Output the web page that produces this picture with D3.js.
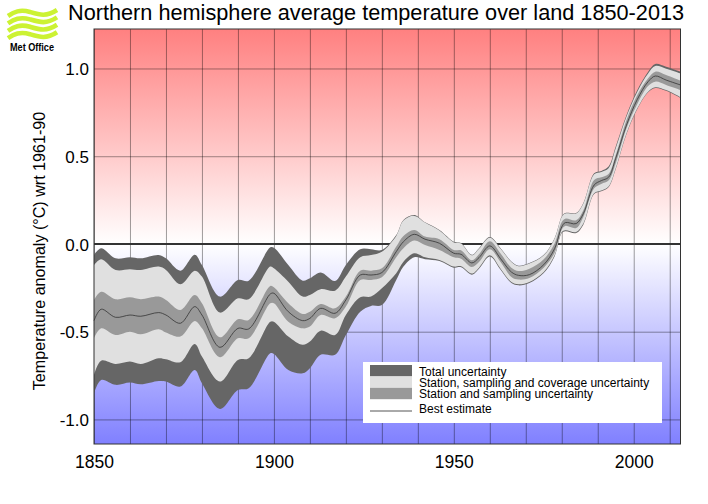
<!DOCTYPE html>
<html>
<head>
<meta charset="utf-8">
<script src="https://cdn.jsdelivr.net/npm/d3@7"></script>
<style>
  body { margin: 0; background: #fff; }
  text { font-family: "Liberation Sans", Arial, sans-serif; fill: #000; }
</style>
</head>
<body>
<div id="grafica"></div>
<script>
// Values (anomaly in degrees C)
const years = [1850,1852,1856,1860,1863,1868,1870,1874,1878,1880,1885,1890,1893,1899,
  1900,1904,1908,1910,1913,1917,1920,1924,1927,1930,1934,1936,1939,1942,1946,1950,
  1952,1955,1957,1960,1963,1966,1968,1971,1975,1978,1980,1981,1984,1986,
  1989,1991,1993,1995,1998,2001,2004,2006,2009,2013]

const totalUpper = [-0.063,-0.025,-0.082,-0.076,-0.082,-0.063,-0.082,-0.152,-0.061,-0.120,-0.300,-0.205,-0.209,-0.019,
  -0.021,-0.120,-0.209,-0.196,-0.163,-0.211,-0.120,-0.030,-0.030,-0.034,0.051,0.137,0.165,0.123,0.080,0.013,
  0.005,-0.062,-0.024,0.039,-0.024,-0.100,-0.124,-0.109,-0.062,0.033,0.157,0.176,0.176,0.233,
  0.403,0.416,0.441,0.555,0.735,0.877,0.982,1.026,1.010,0.982]

const coverageUpper = [-0.120,-0.087,-0.148,-0.144,-0.148,-0.129,-0.148,-0.230,-0.152,-0.186,-0.391,-0.310,-0.315,-0.129,
  -0.139,-0.215,-0.300,-0.291,-0.258,-0.266,-0.186,-0.076,-0.063,-0.044,0.046,0.133,0.160,0.122,0.076,0.009,
  0.002,-0.065,-0.027,0.036,-0.027,-0.103,-0.127,-0.112,-0.065,0.030,0.154,0.173,0.173,0.230,
  0.397,0.410,0.431,0.545,0.726,0.868,0.972,1.014,0.999,0.972]

const stationUpper = [-0.319,-0.272,-0.315,-0.304,-0.315,-0.300,-0.319,-0.376,-0.291,-0.338,-0.532,-0.429,-0.433,-0.239,
  -0.247,-0.338,-0.399,-0.386,-0.342,-0.367,-0.300,-0.152,-0.152,-0.139,-0.015,0.046,0.080,0.042,0.027,-0.034,
  -0.036,-0.093,-0.059,0.015,-0.055,-0.135,-0.154,-0.141,-0.087,0.002,0.125,0.144,0.135,0.192,
  0.365,0.380,0.399,0.507,0.707,0.849,0.944,0.982,0.963,0.931]

const bestEstimate = [-0.437,-0.372,-0.418,-0.405,-0.412,-0.391,-0.405,-0.452,-0.357,-0.405,-0.589,-0.481,-0.484,-0.285,
  -0.281,-0.386,-0.437,-0.424,-0.367,-0.395,-0.319,-0.177,-0.177,-0.163,-0.044,0.013,0.055,0.027,0.004,-0.053,
  -0.059,-0.108,-0.078,-0.011,-0.084,-0.160,-0.179,-0.175,-0.118,-0.027,0.097,0.122,0.116,0.173,
  0.336,0.361,0.380,0.488,0.678,0.824,0.925,0.957,0.934,0.906]

const stationLower = [-0.538,-0.481,-0.519,-0.500,-0.515,-0.486,-0.505,-0.528,-0.439,-0.481,-0.646,-0.538,-0.538,-0.338,
  -0.338,-0.443,-0.481,-0.471,-0.405,-0.424,-0.357,-0.205,-0.205,-0.190,-0.076,-0.025,0.019,-0.006,-0.034,-0.076,
  -0.084,-0.131,-0.103,-0.030,-0.103,-0.188,-0.203,-0.194,-0.135,-0.051,0.082,0.103,0.091,0.154,
  0.317,0.342,0.361,0.460,0.659,0.798,0.900,0.925,0.906,0.877]

const coverageLower = [-0.746,-0.665,-0.684,-0.670,-0.684,-0.651,-0.657,-0.674,-0.570,-0.642,-0.784,-0.661,-0.651,-0.443,
  -0.443,-0.528,-0.575,-0.556,-0.494,-0.519,-0.405,-0.304,-0.300,-0.253,-0.167,-0.101,-0.053,-0.076,-0.091,-0.129,
  -0.127,-0.169,-0.135,-0.065,-0.141,-0.217,-0.230,-0.217,-0.160,-0.065,0.068,0.078,0.068,0.116,
  0.289,0.304,0.327,0.431,0.631,0.773,0.868,0.893,0.877,0.836]

const totalLower = [-0.851,-0.775,-0.803,-0.790,-0.800,-0.781,-0.784,-0.813,-0.718,-0.794,-0.940,-0.832,-0.822,-0.623,
  -0.627,-0.718,-0.737,-0.708,-0.632,-0.632,-0.519,-0.386,-0.353,-0.348,-0.205,-0.129,-0.076,-0.087,-0.097,-0.135,
  -0.133,-0.175,-0.141,-0.071,-0.147,-0.223,-0.236,-0.223,-0.166,-0.071,0.062,0.072,0.062,0.110,
  0.285,0.300,0.323,0.427,0.627,0.769,0.864,0.889,0.873,0.832]

const xTicks = d3.range(1850, 2011, 10)
const yTicks = [-1, -0.5, 0, 0.5, 1]

const bands = [
  { name: "Total uncertainty", upper: totalUpper, lower: totalLower, color: "#666666" },
  { name: "Station, sampling and coverage uncertainty", upper: coverageUpper, lower: coverageLower, color: "#e0e0e0" },
  { name: "Station and sampling uncertainty", upper: stationUpper, lower: stationLower, color: "#999999" },
]

const anchoTotal = 708
const altoTotal = 504
const margins = { top: 29, right: 27.5, bottom: 60, left: 94 }

// Escalas
const x = d3.scaleLinear().domain([1850, 2013]).range([margins.left, anchoTotal - margins.right])
const y = d3.scaleLinear().domain([-1.14, 1.225]).range([altoTotal - margins.bottom, margins.top])

const svg = d3.select("#grafica").append("svg")
  .attr("width", anchoTotal)
  .attr("height", altoTotal)
  .style("display", "block")

// Fondo rojo - blanco - azul
const grad = svg.append("defs").append("linearGradient")
  .attr("id", "fondo")
  .attr("x1", 0).attr("x2", 0).attr("y1", 0).attr("y2", 1)
const zeroStop = (y(0) - margins.top) / (altoTotal - margins.bottom - margins.top)
grad.append("stop").attr("offset", 0).attr("stop-color", "#ff8080")
grad.append("stop").attr("offset", zeroStop).attr("stop-color", "#ffffff")
grad.append("stop").attr("offset", 1).attr("stop-color", "#8080ff")

svg.append("rect")
  .attr("x", x.range()[0])
  .attr("y", y.range()[1])
  .attr("width", x.range()[1] - x.range()[0])
  .attr("height", y.range()[0] - y.range()[1])
  .attr("fill", "url(#fondo)")

// Ejes y rejilla
const xAxis = svg.append("g")
  .attr("transform", `translate(0,${y.range()[0]})`)
  .call(d3.axisBottom(x)
    .tickValues(xTicks)
    .tickSize(y.range()[1] - y.range()[0])
    .tickFormat(d => d % 50 === 0 ? d : ""))
xAxis.select(".domain").remove()
xAxis.selectAll("line").attr("stroke", "#000").attr("stroke-opacity", 0.38)
xAxis.selectAll("text")
  .attr("y", 24)
  .attr("dy", 0)
  .attr("font-size", 17.5)
  .attr("font-family", null)

const yAxis = svg.append("g")
  .attr("transform", `translate(${x.range()[0]},0)`)
  .call(d3.axisLeft(y)
    .tickValues(yTicks)
    .tickSize(x.range()[0] - x.range()[1])
    .tickFormat(d => d3.format(".1f")(d).replace("−", "-")))
yAxis.select(".domain").remove()
yAxis.selectAll("line").attr("stroke", "#000").attr("stroke-opacity", 0.38)
yAxis.selectAll("text")
  .attr("x", -5)
  .attr("dy", "0.36em")
  .attr("font-size", 17)
  .attr("font-family", null)

// Linea del cero
svg.append("line")
  .attr("x1", x.range()[0])
  .attr("x2", x.range()[1])
  .attr("y1", y(0))
  .attr("y2", y(0))
  .attr("stroke", "#333")
  .attr("stroke-width", 2)

// Bandas de incertidumbre
bands.forEach(band => {
  const area = d3.area()
    .curve(d3.curveCatmullRom)
    .x((d, i) => x(years[i]))
    .y0((d, i) => y(band.lower[i]))
    .y1((d, i) => y(band.upper[i]))
  svg.append("path")
    .datum(band.upper)
    .attr("fill", band.color)
    .attr("d", area)
})

const bestLine = d3.line()
  .curve(d3.curveCatmullRom)
  .x((d, i) => x(years[i]))
  .y(d => y(d))
svg.append("path")
  .datum(bestEstimate)
  .attr("fill", "none")
  .attr("stroke", "#333")
  .attr("stroke-width", 0.8)
  .attr("d", bestLine)

// Marco
svg.append("rect")
  .attr("x", x.range()[0])
  .attr("y", y.range()[1])
  .attr("width", x.range()[1] - x.range()[0])
  .attr("height", y.range()[0] - y.range()[1])
  .attr("fill", "none")
  .attr("stroke", "#333")
  .attr("stroke-width", 1)

// Titulos
svg.append("text")
  .attr("x", 68)
  .attr("y", 20)
  .attr("font-size", 21.7)
  .text("Northern hemisphere average temperature over land 1850-2013")

svg.append("text")
  .attr("transform", "translate(44.5,251) rotate(-90)")
  .attr("text-anchor", "middle")
  .attr("font-size", 16.1)
  .text("Temperature anomaly (°C) wrt 1961-90")

// Leyenda
const legend = svg.append("g").attr("transform", "translate(363,362)")
legend.append("rect").attr("width", 299).attr("height", 61).attr("fill", "#fff")

bands.forEach((band, i) => {
  legend.append("rect")
    .attr("x", 7)
    .attr("y", 3 + i * 11.4)
    .attr("width", 42)
    .attr("height", 11.4)
    .attr("fill", band.color)
  legend.append("text")
    .attr("x", 56)
    .attr("y", 14 + i * 11)
    .attr("font-size", 12)
    .text(band.name)
})
legend.append("line")
  .attr("x1", 7).attr("x2", 49)
  .attr("y1", 49).attr("y2", 49)
  .attr("stroke", "#555")
legend.append("text")
  .attr("x", 56)
  .attr("y", 51)
  .attr("font-size", 12)
  .text("Best estimate")

// Logo Met Office
const logo = svg.append("g")
d3.range(4).forEach(i => {
  const off = i * 7.4
  logo.append("path")
    .attr("d", `M8,${16 + off} C14,${12 + off} 20,${9 + off} 30,${12 + off} S46,${17 + off} 57,${10 + off}`)
    .attr("fill", "none")
    .attr("stroke", "#ccf233")
    .attr("stroke-width", 4.6)
})
logo.append("text")
  .attr("x", 10)
  .attr("y", 50.5)
  .attr("font-size", 10)
  .attr("font-weight", "bold")
  .attr("textLength", 44)
  .attr("lengthAdjust", "spacingAndGlyphs")
  .text("Met Office")
</script>
</body>
</html>
